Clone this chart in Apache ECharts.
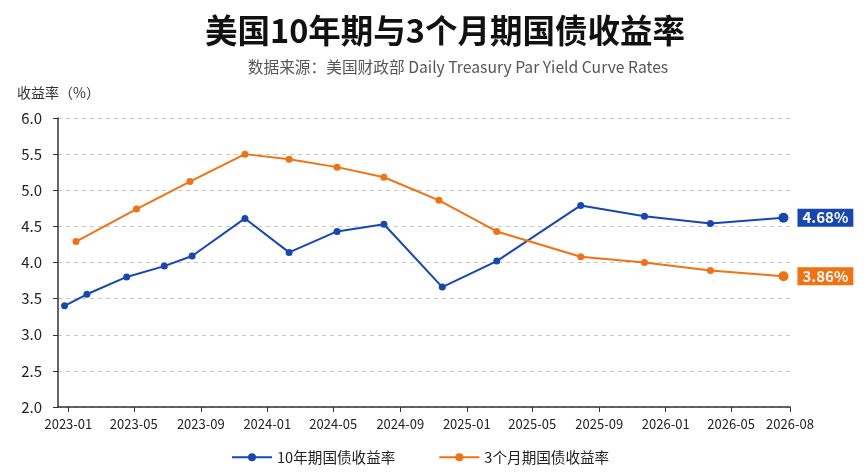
<!DOCTYPE html>
<html>
<head>
<meta charset="utf-8">
<script src="https://cdn.jsdelivr.net/npm/echarts@6/dist/echarts.min.js"></script>
<style>
  html, body { margin: 0; padding: 0; background: #fff; }
  #chart { width: 865px; height: 475px; }
</style>
</head>
<body>
<div id="chart"></div>
<script>
const dates10y = ['2022-12-25', '2023-02-04', '2023-04-18', '2023-06-26', '2023-08-16', '2023-11-21',
    '2024-02-10', '2024-05-08', '2024-08-02', '2024-11-17', '2025-02-25', '2025-07-29',
    '2025-11-23', '2026-03-24', '2026-08-05'];
const yields10y = [3.40, 3.56, 3.80, 3.95, 4.09, 4.61, 4.14, 4.43, 4.53, 3.66, 4.02, 4.79, 4.64, 4.54, 4.62];

const dates3m = ['2023-01-15', '2023-05-06', '2023-08-12', '2023-11-21', '2024-02-10', '2024-05-08',
    '2024-08-02', '2024-11-11', '2025-02-25', '2025-07-29', '2025-11-23', '2026-03-24', '2026-08-05'];
const yields3m = [4.29, 4.74, 5.12, 5.50, 5.43, 5.32, 5.18, 4.86, 4.43, 4.08, 4.00, 3.89, 3.81];

const tickDates = ['2023-01-01', '2023-05-01', '2023-09-01', '2024-01-01', '2024-05-01', '2024-09-01',
    '2025-01-01', '2025-05-01', '2025-09-01', '2026-01-01', '2026-05-01', '2026-08-17'];
const axisRange = ['2022-12-13', '2026-08-17'];
const seriesNames = ['10年期国债收益率', '3个月期国债收益率'];
const endTexts = ['4.68%', '3.86%'];

const BLUE = '#1747b3';
const ORANGE = '#f27212';
const FONT = '"Noto Sans CJK SC", "Noto Sans", sans-serif';

// dates go on a plain value axis as timestamps so the tick dates can be fixed
const ts = s => +echarts.time.parse(s);
const tickValues = tickDates.map(ts);

function pairs(dates, values) {
    return dates.map((d, i) => [ts(d), values[i]]);
}

function lineSeries(name, data, color, endText) {
    const last = data.length - 1;
    return {
        name,
        type: 'line',
        data,
        symbol: 'circle',
        symbolSize: (v, p) => (p.dataIndex === last ? 10 : 7),
        lineStyle: { color, width: 2 },
        itemStyle: { color },
        endLabel: {
            show: true,
            formatter: () => endText,
            distance: 14,
            backgroundColor: color,
            color: '#fff',
            fontFamily: FONT,
            fontSize: 15,
            fontWeight: 'bold',
            padding: [2, 5, 1, 5],
        },
    };
}

const chart = echarts.init(document.getElementById('chart'));
chart.setOption({
    animation: false,
    backgroundColor: '#fff',
    textStyle: { fontFamily: FONT },
    title: [
        {
            text: '美国10年期与3个月期国债收益率',
            left: 440, top: 9, textAlign: 'center',
            textStyle: { fontSize: 32.5, fontWeight: 'bold', color: '#111', fontFamily: FONT },
        },
        {
            text: '数据来源：美国财政部 Daily Treasury Par Yield Curve Rates',
            left: 453, top: 54, textAlign: 'center',
            textStyle: { fontSize: 15.7, fontWeight: 'normal', color: '#555', fontFamily: FONT },
        },
        {
            text: '收益率（%）',
            left: 12, top: 81,
            textStyle: { fontSize: 14, fontWeight: 'normal', color: '#333', fontFamily: FONT },
        },
    ],
    legend: {
        left: 226, top: 445,
        itemWidth: 40, itemHeight: 10, itemGap: 43,
        textStyle: { fontSize: 14.6, color: '#222', fontFamily: FONT },
        data: seriesNames,
    },
    grid: { left: 58, right: 75, top: 118, bottom: 68 },
    xAxis: {
        type: 'value',
        min: ts(axisRange[0]),
        max: ts(axisRange[1]),
        axisLine: { show: true, lineStyle: { color: '#333', width: 1.5 } },
        axisTick: { show: true, length: 5, customValues: tickValues, lineStyle: { color: '#333' } },
        axisLabel: {
            customValues: tickValues,
            margin: 11,
            fontSize: 13,
            color: '#222',
            fontFamily: FONT,
            formatter: v => echarts.time.format(v, '{yyyy}-{MM}', false),
        },
        splitLine: { show: false },
    },
    yAxis: {
        type: 'value',
        min: 2, max: 6, interval: 0.5,
        axisLine: { show: true, lineStyle: { color: '#333', width: 1.5 } },
        axisTick: { show: true, length: 5, lineStyle: { color: '#333' } },
        axisLabel: {
            margin: 16,
            fontSize: 15,
            color: '#222',
            fontFamily: FONT,
            formatter: v => v.toFixed(1),
        },
        splitLine: { show: true, lineStyle: { color: '#c8c8c8', type: [4, 4], width: 1 } },
    },
    series: [
        lineSeries(seriesNames[0], pairs(dates10y, yields10y), BLUE, endTexts[0]),
        lineSeries(seriesNames[1], pairs(dates3m, yields3m), ORANGE, endTexts[1]),
    ],
});
</script>
</body>
</html>
